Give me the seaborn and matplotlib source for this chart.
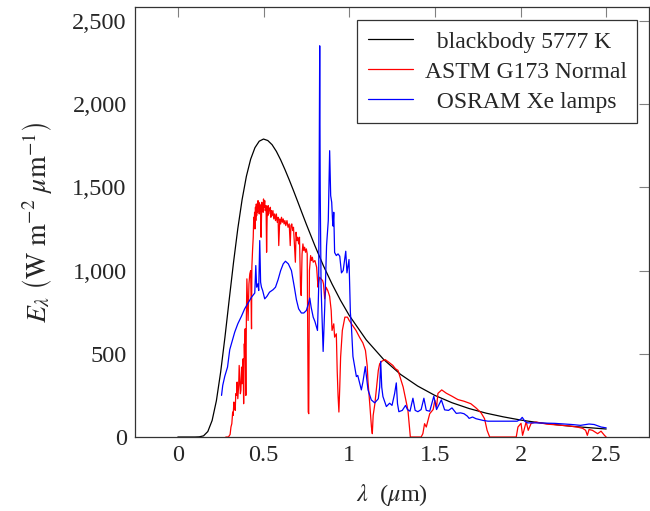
import numpy as np
import pandas as pd
import matplotlib
matplotlib.use("Agg")
import matplotlib.pyplot as plt
import seaborn as sns
from matplotlib.ticker import FuncFormatter

# blackbody 5777 K (W m^-2 um^-1)
lam_bb = [0.0, 0.05, 0.1, 0.125, 0.15, 0.175, 0.2, 0.225, 0.25, 0.275, 0.3, 0.325,
          0.35, 0.375, 0.4, 0.425, 0.45, 0.475, 0.5, 0.525, 0.55, 0.575, 0.6, 0.625,
          0.65, 0.675, 0.7, 0.725, 0.75, 0.8, 0.85, 0.9, 0.95, 1.0, 1.1, 1.2, 1.3,
          1.4, 1.5, 1.6, 1.7, 1.8, 1.9, 2.0, 2.1, 2.2, 2.3, 2.4, 2.5]
E_bb = [0, 0, 0, 1, 7, 33, 99, 218, 391, 600, 827, 1049,
        1252, 1426, 1566, 1669, 1738, 1777, 1790, 1781, 1756, 1716, 1665, 1607,
        1545, 1480, 1413, 1345, 1278, 1149, 1028, 919, 820, 731, 583, 467, 376,
        306, 250, 206, 171, 143, 121, 102, 87, 75, 64, 56, 48]

# ASTM G173 direct normal, (wavelength, irradiance) pairs
astm_pts = [
    (0.28, 0), (0.295, 0), (0.305, 15), (0.31, 60), (0.315, 80), (0.32, 150),
    (0.323, 130), (0.327, 210), (0.33, 180), (0.335, 160), (0.338, 260),
    (0.342, 250), (0.346, 330), (0.35, 230), (0.355, 310), (0.358, 430),
    (0.362, 330), (0.365, 260), (0.368, 280), (0.372, 420), (0.375, 320),
    (0.378, 380), (0.381, 470), (0.384, 200), (0.388, 560), (0.39, 480),
    (0.393, 650), (0.397, 250), (0.40, 720), (0.403, 950), (0.405, 880),
    (0.41, 700), (0.415, 920), (0.42, 980), (0.425, 1000), (0.43, 650),
    (0.432, 1020), (0.436, 1120), (0.44, 1200), (0.443, 1320), (0.445, 1260),
    (0.448, 1350), (0.45, 1250), (0.453, 1380), (0.455, 1300), (0.458, 1400),
    (0.46, 1330), (0.463, 1390), (0.465, 1350), (0.468, 1420), (0.47, 1380),
    (0.473, 1410), (0.475, 1340), (0.478, 1400), (0.48, 1360), (0.483, 1390),
    (0.486, 1200), (0.49, 1410), (0.493, 1370), (0.495, 1390), (0.498, 1350),
    (0.50, 1430), (0.503, 1380), (0.507, 1420), (0.51, 1360), (0.515, 1390),
    (0.518, 1110), (0.522, 1380), (0.525, 1330), (0.527, 1390), (0.53, 1340),
    (0.535, 1370), (0.54, 1380), (0.543, 1320), (0.546, 1360), (0.55, 1330),
    (0.555, 1360), (0.56, 1310), (0.565, 1340), (0.57, 1300), (0.575, 1340),
    (0.58, 1290), (0.585, 1320), (0.589, 1150), (0.595, 1310), (0.60, 1280),
    (0.605, 1320), (0.61, 1290), (0.615, 1310), (0.62, 1280), (0.625, 1300),
    (0.63, 1270), (0.637, 1300), (0.643, 1260), (0.65, 1280), (0.656, 1150),
    (0.66, 1270), (0.665, 1280), (0.67, 1240), (0.675, 1260), (0.686, 1050),
    (0.69, 1230), (0.695, 1180), (0.70, 1200), (0.705, 1160), (0.71, 1200),
    (0.716, 900), (0.72, 850), (0.725, 1100), (0.73, 1160), (0.735, 1120),
    (0.74, 1140), (0.745, 1110), (0.75, 1130), (0.755, 1100), (0.761, 150),
    (0.764, 140), (0.768, 1000), (0.775, 1090), (0.78, 1060), (0.785, 1080),
    (0.79, 1050), (0.80, 1060), (0.81, 1020), (0.818, 900), (0.822, 930),
    (0.828, 960), (0.835, 950), (0.845, 940), (0.85, 920), (0.857, 830),
    (0.865, 900), (0.875, 880), (0.886, 845), (0.895, 760), (0.90, 640),
    (0.91, 680), (0.915, 600), (0.925, 620), (0.93, 400), (0.935, 250),
    (0.94, 150), (0.945, 300), (0.95, 480), (0.96, 640), (0.975, 720),
    (0.99, 720), (1.00, 700), (1.02, 670), (1.04, 640), (1.06, 600),
    (1.08, 565), (1.095, 520), (1.105, 430), (1.11, 330), (1.12, 200),
    (1.13, 60), (1.135, 20), (1.14, 130), (1.15, 200), (1.16, 300),
    (1.17, 400), (1.178, 440), (1.19, 455), (1.21, 465), (1.23, 450),
    (1.255, 430), (1.27, 410), (1.285, 400), (1.30, 350), (1.315, 300),
    (1.325, 250), (1.343, 160), (1.357, 0), (1.38, 0), (1.40, 0), (1.42, 0),
    (1.43, 20), (1.44, 80), (1.45, 60), (1.47, 140), (1.49, 165), (1.50, 220),
    (1.51, 180), (1.518, 262), (1.54, 283), (1.567, 263), (1.60, 245),
    (1.634, 225), (1.67, 215), (1.71, 200), (1.74, 175), (1.77, 145),
    (1.79, 110), (1.805, 40), (1.82, 0), (1.90, 0), (1.975, 0), (1.985, 60),
    (2.003, 82), (2.012, 10), (2.02, 40), (2.033, 92), (2.045, 40), (2.062, 82),
    (2.09, 90), (2.15, 78), (2.22, 72), (2.286, 66), (2.33, 60), (2.363, 52),
    (2.38, 40), (2.39, 10), (2.40, 45), (2.42, 40), (2.45, 20), (2.47, 35),
    (2.49, 10), (2.50, 0),
]
lam_astm = [p[0] for p in astm_pts]
E_astm = [p[1] for p in astm_pts]

# OSRAM Xe lamps
lam_xe = [0.255, 0.262, 0.274, 0.29, 0.303, 0.318, 0.332, 0.35, 0.371, 0.39, 0.41,
          0.43, 0.449, 0.455, 0.46, 0.467, 0.472, 0.478, 0.483, 0.488, 0.495, 0.507,
          0.52, 0.535, 0.556, 0.57, 0.585, 0.60, 0.615, 0.628, 0.645, 0.663, 0.68,
          0.692, 0.705, 0.721, 0.735, 0.75, 0.762, 0.77, 0.778, 0.79, 0.80, 0.815,
          0.822, 0.828, 0.831, 0.836, 0.848, 0.858, 0.868, 0.878, 0.886, 0.892, 0.898,
          0.903, 0.906, 0.91, 0.915, 0.925, 0.935, 0.945, 0.955, 0.965, 0.98, 0.987,
          0.999, 1.007, 1.013, 1.022, 1.042, 1.05, 1.061, 1.071, 1.08, 1.094, 1.11,
          1.129, 1.149, 1.17, 1.178, 1.184, 1.19, 1.197, 1.217, 1.236, 1.25, 1.265,
          1.275, 1.282, 1.29, 1.31, 1.329, 1.34, 1.355, 1.372, 1.385, 1.401, 1.42,
          1.436, 1.45, 1.47, 1.494, 1.51, 1.538, 1.557, 1.58, 1.60, 1.625, 1.65, 1.67,
          1.69, 1.70, 1.72, 1.74, 1.78, 1.81, 1.90, 1.98, 2.0, 2.01, 2.025, 2.04,
          2.08, 2.2, 2.3, 2.35, 2.4, 2.43, 2.47, 2.5]
E_xe = [250, 310, 365, 420, 525, 580, 630, 680, 725, 770, 805,
        840, 865, 1030, 900, 920, 880, 1180, 930, 900, 880, 830,
        845, 870, 885, 900, 945, 1000, 1040, 1056, 1040, 1000, 900,
        825, 770, 745, 745, 760, 800, 835, 780, 720, 694, 640,
        900, 2350, 1470, 900, 514, 800, 1150, 1300, 1720, 1450, 1410,
        1300, 1267, 1350, 1108, 1090, 1100, 1086, 986, 1000, 1116, 986,
        1066, 747, 665, 484, 363, 370, 325, 283, 330, 423, 283,
        223, 205, 230, 300, 454, 300, 243, 183, 203, 190, 260,
        325, 200, 152, 160, 190, 165, 155, 233, 160, 152, 165,
        233, 160, 155, 245, 165, 223, 163, 160, 175, 142, 145, 140,
        125, 112, 120, 110, 100, 95, 95, 95, 106, 118, 95, 85,
        85, 82, 75, 70, 78, 75, 60, 55]

# x/y tick values
xticks = [0, 0.5, 1, 1.5, 2, 2.5]
yticks = [0, 500, 1000, 1500, 2000, 2500]

sns.set_style("white")
plt.rcParams["font.family"] = ["Liberation Serif", "DejaVu Serif"]
plt.rcParams["mathtext.fontset"] = "stix"

fig = plt.figure(figsize=(6.5, 5.11), dpi=100)
ax = fig.add_axes([0.2077, 0.1448, 0.7908, 0.8421])

# leading spaces centre the legend entries as in the original
series = [(lam_bb, E_bb, "black", "  blackbody 5777 K"),
          (lam_astm, E_astm, "red", "ASTM G173 Normal"),
          (lam_xe, E_xe, "blue", "  OSRAM Xe lamps")]
for lam, E, col, lab in series:
    df = pd.DataFrame({"lam": lam, "E": E})
    sns.lineplot(data=df, x="lam", y="E", color=col, label=lab, ax=ax,
                 linewidth=0.9, estimator=None, sort=False, errorbar=None)

ax.set_xlim(-0.25, 2.75)
ax.set_ylim(0, 2585)
ax.set_xticks(xticks)
ax.set_yticks(yticks)
ax.set_xticklabels(["0", "0.5", "1", "1.5", "2", "2.5"])
ax.yaxis.set_major_formatter(FuncFormatter(lambda v, p: "{:,}".format(int(v))))
ax.tick_params(direction="in", length=7, width=0.8, color="0.5",
               top=True, right=True, labelsize=17.5, pad=6)
for s in ax.spines.values():
    s.set_color("0.2")
    s.set_linewidth(0.9)

ax.set_xlabel(r"$\lambda\ $ ($\mu$m)", fontsize=17.5, labelpad=11)
ax.set_ylabel(r"$E_\lambda\ \left(\mathrm{W\ m^{-2}}\ \mu\mathrm{m}^{-1}\right)$",
              fontsize=20, labelpad=13)

leg = ax.legend(loc="upper right", bbox_to_anchor=(0.977, 0.968), borderaxespad=0,
                fontsize=17, frameon=True, fancybox=False, handlelength=1.9,
                handletextpad=0.5, labelspacing=0.36, borderpad=0.45)
leg.get_frame().set_edgecolor("black")
leg.get_frame().set_linewidth(0.9)

fig.savefig("out.png", dpi=100)
